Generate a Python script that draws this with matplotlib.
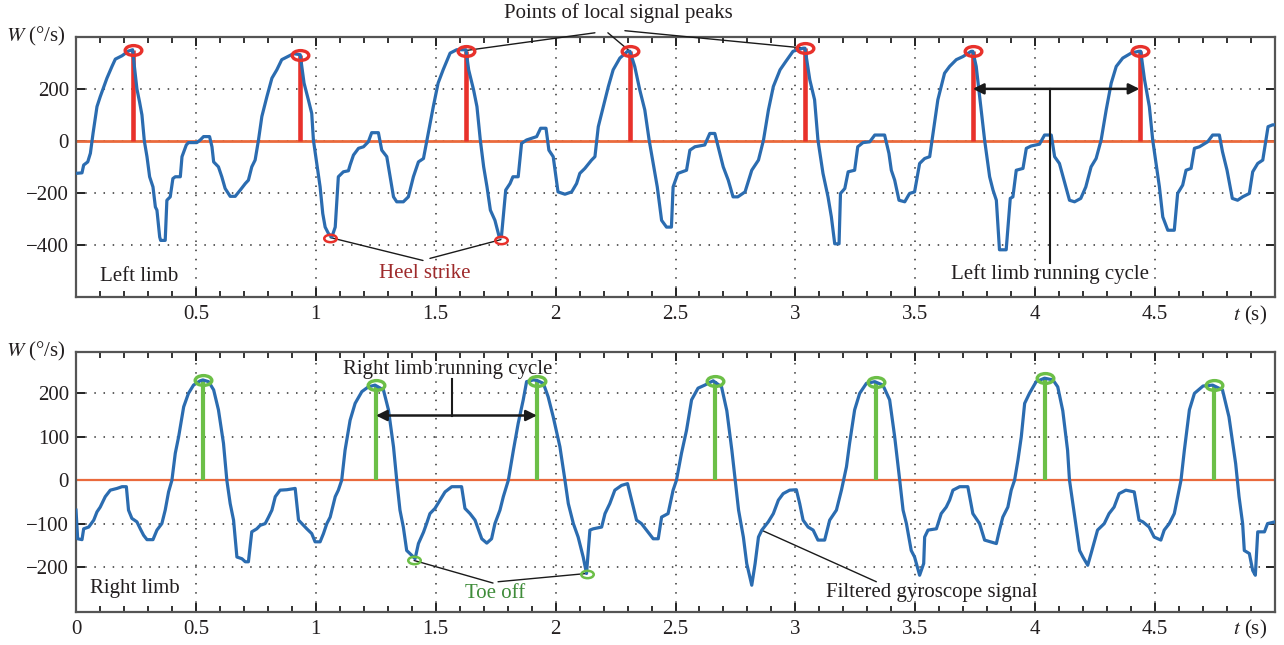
import matplotlib
matplotlib.use("Agg")
import matplotlib.pyplot as plt
from matplotlib.path import Path
from matplotlib.transforms import Affine2D
import matplotlib.transforms as mtrans

# ---------------- data ----------------
left_t = [0, 0.025, 0.032, 0.049, 0.06, 0.071, 0.0875, 0.101, 0.129, 0.15, 0.164, 0.192, 0.219, 0.236,
          0.243, 0.254, 0.265, 0.275, 0.285, 0.296, 0.307, 0.321, 0.331, 0.3375, 0.349, 0.353, 0.372, 0.379,
          0.393, 0.404, 0.414, 0.435, 0.442, 0.46, 0.469, 0.504, 0.518, 0.532, 0.557, 0.567, 0.574, 0.594,
          0.608, 0.622, 0.643, 0.664, 0.685, 0.706, 0.719, 0.733, 0.747, 0.761, 0.775, 0.796, 0.817, 0.8375,
          0.858, 0.879, 0.907, 0.935, 0.951, 0.969, 0.983, 0.99, 1.004, 1.018, 1.029, 1.039, 1.053, 1.067,
          1.081, 1.094, 1.115, 1.136, 1.143, 1.157, 1.178, 1.199, 1.219, 1.233, 1.261, 1.275, 1.296, 1.31,
          1.324, 1.3375, 1.365, 1.386, 1.407, 1.428, 1.449, 1.469, 1.49, 1.51, 1.531, 1.56, 1.5875, 1.626,
          1.6375, 1.658, 1.672, 1.686, 1.7, 1.714, 1.728, 1.747, 1.765, 1.774, 1.792, 1.81, 1.822, 1.844,
          1.858, 1.879, 1.921, 1.9375, 1.96, 1.972, 1.99, 2.01, 2.039, 2.067, 2.0875, 2.101, 2.122, 2.15,
          2.164, 2.178, 2.199, 2.22, 2.24, 2.268, 2.3, 2.31, 2.33, 2.351, 2.372, 2.39, 2.407, 2.424, 2.442,
          2.4625, 2.483, 2.49, 2.51, 2.546, 2.56, 2.581, 2.622, 2.643, 2.664, 2.678, 2.699, 2.72, 2.74, 2.76,
          2.79, 2.818, 2.846, 2.867, 2.8875, 2.908, 2.936, 2.96, 2.99, 3.032, 3.04, 3.06, 3.08, 3.094, 3.115,
          3.136, 3.15, 3.164, 3.182, 3.188, 3.206, 3.22, 3.247, 3.26, 3.282, 3.31, 3.331, 3.372, 3.39, 3.4,
          3.414, 3.432, 3.456, 3.476, 3.497, 3.518, 3.539, 3.56, 3.574, 3.594, 3.622, 3.643, 3.671, 3.699,
          3.733, 3.74, 3.754, 3.775, 3.789, 3.81, 3.824, 3.838, 3.851, 3.879, 3.896, 3.907, 3.921, 3.949,
          3.963, 3.983, 4.018, 4.039, 4.067, 4.081, 4.101, 4.122, 4.143, 4.164, 4.19, 4.211, 4.233, 4.254,
          4.275, 4.296, 4.317, 4.338, 4.365, 4.4, 4.432, 4.44, 4.456, 4.476, 4.49, 4.504, 4.518, 4.532, 4.553,
          4.58, 4.594, 4.615, 4.629, 4.65, 4.664, 4.685, 4.719, 4.74, 4.768, 4.781, 4.8, 4.822, 4.844, 4.865,
          4.893, 4.907, 4.928, 4.949, 4.971, 4.99, 5.0]
left_w = [-124, -122, -92, -80, -47, 29, 132, 170, 241, 286, 314, 327, 345, 350,
          290, 200, 150, 100, 0, -60, -137, -176, -253, -265, -368, -381, -381, -227,
          -214, -144, -137, -137, -60, -15, -6, -6, 4, 17, 17, -22, -80, -99,
          -137, -182, -212, -212, -188, -163, -150, -99, -73, 4, 94, 170, 241, 273,
          312, 322, 335, 331, 222, 158, 106, 4, -86, -176, -278, -330, -355, -368,
          -330, -137, -118, -114, -92, -54, -28, -22, -3, 32, 32, -35, -60, -137,
          -214, -233, -233, -214, -137, -80, -67, 29, 132, 222, 273, 337, 350, 350,
          273, 196, 132, 4, -99, -176, -265, -304, -368, -368, -188, -163, -137, -137,
          -9, 4, 17, 49, 49, -35, -60, -195, -204, -195, -163, -124, -105, -73,
          -60, 55, 132, 209, 273, 318, 344, 344, 286, 196, 119, 4, -86, -176, -304,
          -330, -330, -176, -124, -112, -35, -22, -15, 29, 29, -22, -99, -150, -214, -214,
          -195, -112, -73, 4, 119, 209, 273, 305, 344, 356, 356, 235, 158, 4, -124,
          -214, -291, -394, -394, -201, -182, -118, -112, -22, -6, -3, 23, 23, -47, -112,
          -150, -227, -233, -201, -195, -86, -67, -60, 29, 158, 260, 286, 312, 324,
          344, 344, 286, 119, 4, -137, -188, -227, -417, -417, -220, -214, -112, -105,
          -28, -19, -12, 23, 23, -60, -86, -156, -227, -233, -220, -176, -99, -67,
          4, 119, 222, 286, 318, 337, 344, 344, 235, 132, 4, -86, -176, -291, -342,
          -342, -201, -169, -112, -105, -28, -22, -3, 23, 23, -41, -112, -220, -227, -214,
          -201, -118, -86, -73, 55, 62, 62]

right_t = [0, 0.007, 0.025, 0.032, 0.053, 0.074, 0.0875, 0.101, 0.122, 0.143, 0.171, 0.192, 0.21, 0.219,
           0.233, 0.254, 0.268, 0.282, 0.296, 0.321, 0.3375, 0.358, 0.372, 0.386, 0.4, 0.414, 0.428, 0.449,
           0.469, 0.49, 0.518, 0.529, 0.553, 0.574, 0.594, 0.615, 0.629, 0.643, 0.657, 0.671, 0.692, 0.706,
           0.719, 0.733, 0.754, 0.768, 0.789, 0.803, 0.817, 0.831, 0.851, 0.879, 0.914, 0.928, 0.942, 0.9625,
           0.983, 0.997, 1.018, 1.032, 1.046, 1.06, 1.081, 1.094, 1.108, 1.122, 1.143, 1.164, 1.192, 1.219,
           1.247, 1.282, 1.303, 1.324, 1.3375, 1.351, 1.365, 1.379, 1.4, 1.414, 1.428, 1.449, 1.462, 1.476,
           1.497, 1.518, 1.539, 1.567, 1.608, 1.622, 1.643, 1.664, 1.692, 1.713, 1.733, 1.747, 1.768, 1.782,
           1.803, 1.824, 1.844, 1.865, 1.879, 1.907, 1.922, 1.949, 1.969, 1.99, 2.018, 2.039, 2.053, 2.074,
           2.094, 2.115, 2.129, 2.143, 2.157, 2.192, 2.206, 2.226, 2.247, 2.275, 2.3, 2.317, 2.3375, 2.358,
           2.379, 2.407, 2.428, 2.442, 2.469, 2.49, 2.504, 2.525, 2.546, 2.567, 2.594, 2.622, 2.657, 2.692,
           2.714, 2.735, 2.749, 2.763, 2.783, 2.797, 2.818, 2.832, 2.846, 2.86, 2.887, 2.908, 2.929, 2.949,
           2.976, 3.004, 3.018, 3.032, 3.053, 3.074, 3.094, 3.122, 3.143, 3.171, 3.192, 3.213, 3.226, 3.247,
           3.268, 3.296, 3.331, 3.365, 3.393, 3.414, 3.435, 3.449, 3.463, 3.483, 3.497, 3.518, 3.535, 3.539,
           3.553, 3.588, 3.608, 3.629, 3.643, 3.657, 3.685, 3.719, 3.74, 3.768, 3.789, 3.838, 3.851, 3.865,
           3.886, 3.9, 3.914, 3.928, 3.942, 3.956, 3.976, 4.004, 4.039, 4.074, 4.094, 4.115, 4.135, 4.143,
           4.157, 4.185, 4.199, 4.219, 4.233, 4.26, 4.288, 4.308, 4.329, 4.35, 4.378, 4.413, 4.433, 4.449,
           4.475, 4.496, 4.524, 4.538, 4.559, 4.58, 4.594, 4.608, 4.622, 4.643, 4.664, 4.7, 4.74, 4.781,
           4.808, 4.836, 4.85, 4.865, 4.872, 4.893, 4.907, 4.918, 4.928, 4.956, 4.969, 5.0]
right_w = [-69, -135, -137, -112, -108, -92, -73, -62, -38, -23, -19, -15, -15, -69,
           -88, -96, -112, -127, -137, -137, -115, -100, -69, -27, 0, 62, 100, 169,
           200, 219, 229, 231, 227, 208, 162, 85, 0, -54, -92, -177, -181, -188,
           -188, -119, -112, -104, -100, -85, -69, -38, -23, -22, -19, -92, -100, -112,
           -123, -142, -142, -123, -100, -85, -38, -23, 0, 69, 138, 177, 204, 215,
           219, 208, 162, 77, 0, -69, -108, -162, -173, -181, -146, -120, -100, -77,
           -65, -46, -27, -15, -15, -65, -77, -92, -135, -145, -135, -100, -69, -38,
           0, 69, 131, 185, 227, 231, 230, 223, 192, 146, 77, 0, -54, -100,
           -131, -177, -215, -115, -112, -108, -77, -54, -23, -12, -8, -46, -92, -100,
           -115, -135, -135, -85, -77, -23, 0, 62, 115, 185, 212, 219, 229, 215,
           160, 69, 0, -69, -131, -192, -242, -192, -131, -115, -96, -77, -46, -31,
           -23, -22, -54, -92, -108, -115, -138, -138, -92, -69, -23, 31, 85, 162,
           200, 223, 227, 219, 185, 100, 0, -69, -100, -162, -177, -219, -192, -131,
           -115, -112, -77, -62, -46, -23, -15, -15, -77, -100, -138, -146, -115, -85,
           -62, -23, 0, 46, 100, 177, 200, 227, 235, 231, 215, 160, 69, 0,
           -54, -162, -177, -196, -169, -115, -100, -77, -62, -31, -23, -27, -92, -96,
           -108, -131, -138, -115, -100, -77, -38, 0, 69, 162, 200, 217, 219, 208,
           146, 38, -38, -100, -162, -169, -208, -219, -119, -119, -100, -96]

left_peak_t = [0.236, 0.935, 1.626, 2.31, 3.04, 3.74, 4.435]
left_peak_w = [350, 331, 347, 344, 356, 344, 344]
heel_t = [1.06, 1.772]
heel_w = [-370, -378]

right_peak_t = [0.529, 1.251, 1.922, 2.664, 3.335, 4.039, 4.747]
right_peak_w = [231, 219, 228, 228, 227, 235, 219]
toe_t = [1.41, 2.129]
toe_w = [-185, -215]

top_xticks = [0.5, 1, 1.5, 2, 2.5, 3, 3.5, 4, 4.5]
top_xlabels = ["0.5", "1", "1.5", "2", "2.5", "3", "3.5", "4", "4.5"]
bot_xticks = [0, 0.5, 1, 1.5, 2, 2.5, 3, 3.5, 4, 4.5]
bot_xlabels = ["0", "0.5", "1", "1.5", "2", "2.5", "3", "3.5", "4", "4.5"]
top_yticks = [-400, -200, 0, 200]
bot_yticks = [-200, -100, 0, 100, 200]

# ---------------- style ----------------
plt.rcParams['font.family'] = ['Liberation Serif', 'DejaVu Serif']
plt.rcParams['mathtext.fontset'] = 'stix'
TXT = '#231f20'
BLUE = '#2b6cb0'
RED = '#e8312b'
ORANGE = '#ea6a3c'
GREEN = '#6cbf47'
DARKRED = '#9e2a2b'
DKGREEN = '#3f8c3a'
FS = 15

ellipse = Path.unit_circle().transformed(Affine2D().scale(1.7, 1.0))

fig = plt.figure(figsize=(12.84, 6.45), dpi=100)
ax1 = fig.add_axes([76/1284, 1 - 297/645, (1275-76)/1284, (297-36.7)/645])
ax2 = fig.add_axes([76/1284, 1 - 611.7/645, (1275-76)/1284, (611.7-351.7)/645])


def style_axes(ax, xticks, xlabels, yticks, ylim):
    ax.set_xlim(0, 5)
    ax.set_ylim(*ylim)
    ax.set_xticks(xticks)
    ax.set_xticklabels(xlabels)
    ax.set_xticks([i / 10 for i in range(1, 50)], minor=True)
    ax.set_yticks(yticks)
    ax.tick_params(which='both', direction='in', top=True, right=True, colors='#222222',
                   labelcolor=TXT, labelsize=FS)
    ax.tick_params(which='major', length=6.5, width=1.4, pad=6)
    ax.tick_params(which='minor', length=4, width=1.3)
    ax.tick_params(axis='y', which='major', pad=5)
    ax.grid(True, which='major', color='#333333', linestyle=(0, (1, 5)), linewidth=1.1)
    for s in ax.spines.values():
        s.set_color('#555555')
        s.set_linewidth(1.6)
    trans = mtrans.blended_transform_factory(ax.transData, ax.transAxes)
    ax.text(4.965, -0.025, r'$t$ (s)', transform=trans, ha='right', va='top',
            fontsize=FS, color=TXT)
    ax.text(-0.0085, 1.0, r'$W$ (°/s)', transform=ax.transAxes, ha='right', va='center',
            fontsize=FS, color=TXT)


style_axes(ax1, top_xticks, top_xlabels, top_yticks, (-598, 400))
style_axes(ax2, bot_xticks, bot_xlabels, bot_yticks, (-303, 296))

# ---------------- top panel ----------------
ax1.axhline(0, color=ORANGE, lw=2.0, zorder=2)
ax1.vlines(left_peak_t, 0, left_peak_w, color=RED, lw=3.3, zorder=3)
ax1.plot(left_t, left_w, color=BLUE, lw=2.3, zorder=4, solid_joinstyle='round')
ax1.plot(left_peak_t, left_peak_w, linestyle='none', marker=ellipse, markersize=12,
         mfc='none', mec=RED, mew=2.4, zorder=5)
ax1.plot(heel_t, heel_w, linestyle='none', marker=ellipse, markersize=9,
         mfc='none', mec=RED, mew=1.8, zorder=5)

lk = dict(arrowstyle='-', color='#1a1a1a', lw=1.0, shrinkA=0, shrinkB=0)
ax1.text(2.26, 492, 'Points of local signal peaks', ha='center', va='center',
         fontsize=FS, color=TXT, clip_on=False)
for (sx, sy), pi in zip([(2.164, 415), (2.218, 415), (2.289, 423)], [2, 3, 4]):
    ax1.annotate('', xy=(left_peak_t[pi], left_peak_w[pi]), xytext=(sx, sy),
                 arrowprops=lk, annotation_clip=False)

ax1.text(1.456, -507, 'Heel strike', ha='center', va='center', fontsize=FS, color=DARKRED)
ax1.annotate('', xy=(heel_t[0], heel_w[0]), xytext=(1.447, -458), arrowprops=lk)
ax1.annotate('', xy=(heel_t[1], heel_w[1]), xytext=(1.476, -450), arrowprops=lk)

ax1.text(0.1, -521, 'Left limb', ha='left', va='center', fontsize=FS, color=TXT)
ax1.text(4.06, -510, 'Left limb running cycle', ha='center', va='center', fontsize=FS, color=TXT)
ax1.annotate('', xy=(left_peak_t[5], 200), xytext=(left_peak_t[6], 200),
             arrowprops=dict(arrowstyle='<|-|>', color='#1a1a1a', lw=1.8,
                             mutation_scale=16, shrinkA=0, shrinkB=0), zorder=6)
ax1.plot([4.062, 4.062], [200, -469], color='#1a1a1a', lw=1.5, zorder=6)

# ---------------- bottom panel ----------------
ax2.axhline(0, color=ORANGE, lw=1.6, zorder=2)
ax2.vlines(right_peak_t, 0, right_peak_w, color=GREEN, lw=3.0, zorder=3)
ax2.plot(right_t, right_w, color=BLUE, lw=2.3, zorder=4, solid_joinstyle='round')
ax2.plot(right_peak_t, right_peak_w, linestyle='none', marker=ellipse, markersize=12,
         mfc='none', mec=GREEN, mew=2.4, zorder=5)
ax2.plot(toe_t, toe_w, linestyle='none', marker=ellipse, markersize=9,
         mfc='none', mec=GREEN, mew=1.8, zorder=5)

ax2.text(1.548, 255, 'Right limb running cycle', ha='center', va='center', fontsize=FS, color=TXT)
ax2.annotate('', xy=(right_peak_t[1], 149), xytext=(right_peak_t[2], 149),
             arrowprops=dict(arrowstyle='<|-|>', color='#1a1a1a', lw=1.8,
                             mutation_scale=16, shrinkA=0, shrinkB=0), zorder=6)
ax2.plot([1.569, 1.569], [149, 232], color='#1a1a1a', lw=1.5, zorder=6)

ax2.text(1.747, -260, 'Toe off', ha='center', va='center', fontsize=FS, color=DKGREEN)
ax2.annotate('', xy=(toe_t[0], toe_w[0]), xytext=(1.739, -237), arrowprops=lk)
ax2.annotate('', xy=(toe_t[1], toe_w[1]), xytext=(1.76, -234), arrowprops=lk)

ax2.text(3.567, -259, 'Filtered gyroscope signal', ha='center', va='center', fontsize=FS, color=TXT)
ax2.annotate('', xy=(2.858, -115), xytext=(3.3375, -234), arrowprops=lk)

ax2.text(0.06, -250, 'Right limb', ha='left', va='center', fontsize=FS, color=TXT)

fig.savefig('out.png', dpi=100)
